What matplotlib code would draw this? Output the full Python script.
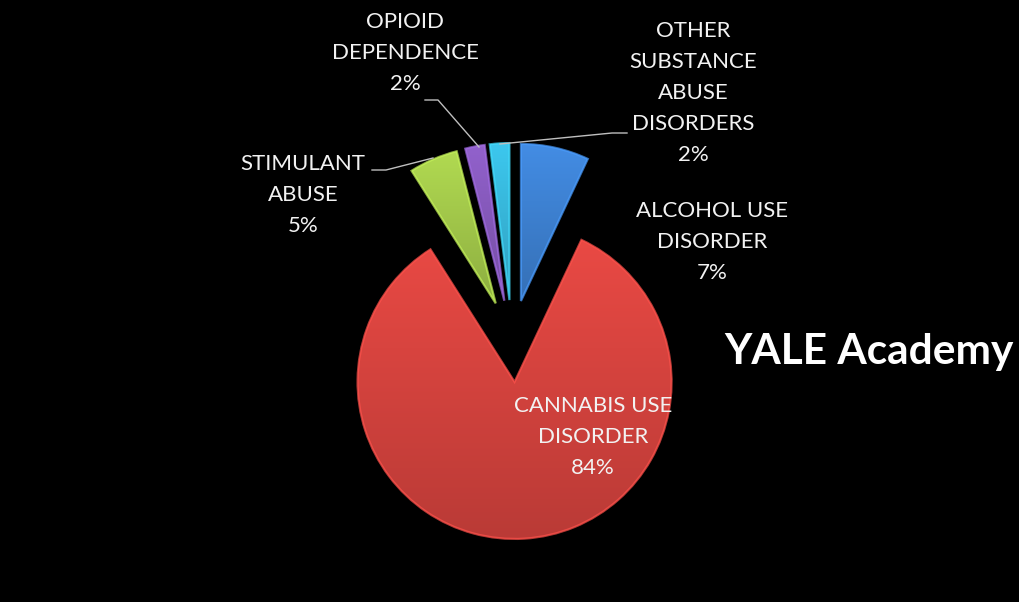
import numpy as np
import matplotlib.pyplot as plt
from matplotlib.patches import Wedge
from matplotlib.colors import to_rgb

# slice data, clockwise from 12 o'clock
labels = ["ALCOHOL USE\nDISORDER", "CANNABIS USE\nDISORDER", "STIMULANT\nABUSE",
          "OPIOID\nDEPENDENCE", "OTHER\nSUBSTANCE\nABUSE\nDISORDERS"]
shares = [7, 84, 5, 2, 2]
colors = ["#3e82d3", "#d8443f", "#a4ca4b", "#875abd", "#38b9dd"]

W, H = 1019, 602
CENTER = (512, 341)      # pixel position of the pie centre (y measured from top)
RADIUS = 157
EXPLODE = 41             # pie() offsets slices in data units, i.e. pixels here
FONT = "Lato"
TEXT_COLOR = "#f2f2f2"
LINE_COLOR = "#bfbfbf"


def py(y):
    # flip a top-down pixel y into axes data coordinates
    return H - y


def shade(color, top, bottom, n=256):
    # vertical gradient image, lighter at the top and darker at the bottom
    base = np.array(to_rgb(color))
    f = np.linspace(top, bottom, n)[:, None]
    rgb = np.clip(base[None, :] * f, 0, 1)
    img = np.ones((n, 2, 4))
    img[:, :, :3] = rgb[:, None, :]
    return img


fig = plt.figure(figsize=(W / 100, H / 100), dpi=100, facecolor="black")
ax = fig.add_axes([0, 0, 1, 1])
ax.set_facecolor("black")

wedges, _ = ax.pie(shares, colors=colors, startangle=90, counterclock=False,
                   radius=RADIUS, center=(CENTER[0], py(CENTER[1])),
                   explode=[EXPLODE] * len(shares),
                   wedgeprops=dict(linewidth=0))
ax.set_xlim(0, W)
ax.set_ylim(0, H)
ax.set_aspect("equal")
ax.axis("off")

# gradient fill and a soft bevel rim on each slice
for w, c in zip(wedges, colors):
    ext = w.get_path().get_extents()
    im = ax.imshow(shade(c, 1.08, 0.86), extent=(ext.x0, ext.x1, ext.y0, ext.y1),
                   aspect="auto", origin="upper", zorder=w.get_zorder() + 0.1,
                   interpolation="bilinear")
    im.set_clip_path(w)
    rim = np.clip(np.array(to_rgb(c)) * 1.2, 0, 1)
    ax.add_patch(Wedge(w.center, w.r, w.theta1, w.theta2, facecolor="none",
                       edgecolor=rim, linewidth=1.6, alpha=0.7,
                       zorder=w.get_zorder() + 0.2))

# data labels
label_pos = [(712, 242), (593, 437), (303, 195), (405, 53), (693, 93)]
for lab, val, (x, y) in zip(labels, shares, label_pos):
    ax.text(x, py(y), f"{lab}\n{val}%", ha="center", va="center", color=TEXT_COLOR,
            fontsize=16, family=FONT, linespacing=1.7, zorder=5)

# leader lines
leaders = [
    [(372, 170), (386, 170), (433, 158)],
    [(425, 100), (438, 100), (479, 147)],
    [(627, 133), (612, 133), (500, 144)],
]
for pts in leaders:
    xs, ys = zip(*pts)
    ax.plot(xs, [py(v) for v in ys], color=LINE_COLOR, linewidth=1, zorder=4)

ax.text(724, py(352), "YALE Academy", ha="left", va="center", color="white",
        fontsize=30.5, fontweight="bold", family=FONT, zorder=5)

fig.savefig("out.png", dpi=100, facecolor="black")
